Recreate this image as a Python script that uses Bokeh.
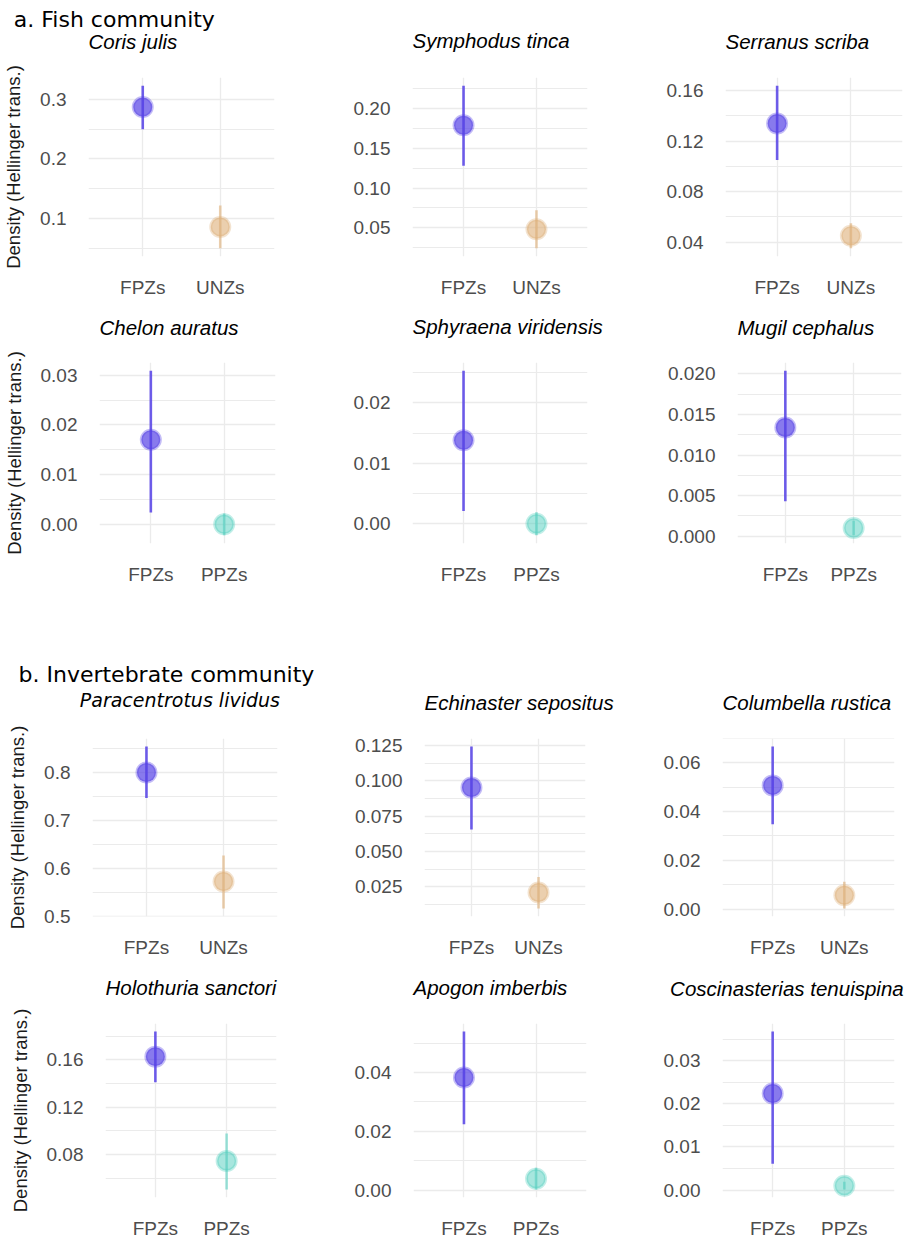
from bokeh.plotting import figure
from bokeh.models import Range1d, FactorRange, FixedTicker, Label, ColumnDataSource
from bokeh.layouts import column, row
from bokeh.embed import file_html
from bokeh.resources import INLINE

# ---------------- data ----------------
section_titles = ["a. Fish community", "b. Invertebrate community"]
y_title = "Density (Hellinger trans.)"

species = ["Coris julis", "Symphodus tinca", "Serranus scriba",
           "Chelon auratus", "Sphyraena viridensis", "Mugil cephalus",
           "Paracentrotus lividus", "Echinaster sepositus", "Columbella rustica",
           "Holothuria sanctori", "Apogon imberbis", "Coscinasterias tenuispina"]
ref_zone = "FPZs"
other_zone = ["UNZs", "UNZs", "UNZs", "PPZs", "PPZs", "PPZs",
              "UNZs", "UNZs", "UNZs", "PPZs", "PPZs", "PPZs"]

fpz_mean = [0.287, 0.179, 0.134, 0.0170, 0.0138, 0.0134, 0.799, 0.0953, 0.0507, 0.1627, 0.0383, 0.0224]
fpz_lo   = [0.250, 0.128, 0.105, 0.0024, 0.0021, 0.0043, 0.746, 0.0656, 0.0348, 0.1410, 0.0224, 0.0061]
fpz_hi   = [0.323, 0.229, 0.164, 0.0309, 0.0253, 0.0204, 0.853, 0.1243, 0.0666, 0.1840, 0.0540, 0.0368]

oth_mean = [0.086, 0.048, 0.045, 0.0000, 0.0000, 0.0010, 0.572, 0.0210, 0.0057, 0.0745, 0.0039, 0.0010]
oth_lo   = [0.050, 0.024, 0.035, -0.0022, -0.0019, 0.0001, 0.516, 0.0097, 0.0003, 0.0504, 0.0002, 0.0001]
oth_hi   = [0.122, 0.072, 0.055, 0.0022, 0.0019, 0.0019, 0.626, 0.0320, 0.0112, 0.0978, 0.0076, 0.0019]

y_ticks = [[0.1, 0.2, 0.3], [0.05, 0.10, 0.15, 0.20], [0.04, 0.08, 0.12, 0.16],
           [0.00, 0.01, 0.02, 0.03], [0.00, 0.01, 0.02], [0.000, 0.005, 0.010, 0.015, 0.020],
           [0.5, 0.6, 0.7, 0.8], [0.025, 0.050, 0.075, 0.100, 0.125], [0.00, 0.02, 0.04, 0.06],
           [0.08, 0.12, 0.16], [0.00, 0.02, 0.04], [0.00, 0.01, 0.02, 0.03]]
y_tick_labels = [["0.1", "0.2", "0.3"], ["0.05", "0.10", "0.15", "0.20"], ["0.04", "0.08", "0.12", "0.16"],
                 ["0.00", "0.01", "0.02", "0.03"], ["0.00", "0.01", "0.02"],
                 ["0.000", "0.005", "0.010", "0.015", "0.020"],
                 ["0.5", "0.6", "0.7", "0.8"], ["0.025", "0.050", "0.075", "0.100", "0.125"],
                 ["0.00", "0.02", "0.04", "0.06"],
                 ["0.08", "0.12", "0.16"], ["0.00", "0.02", "0.04"], ["0.00", "0.01", "0.02", "0.03"]]

# ---------------- styles / geometry ----------------
zone_color = {"FPZs": "#5541E6", "UNZs": "#DDAF78", "PPZs": "#4FCDBE"}
zone_fill_alpha = {"FPZs": 0.70, "UNZs": 0.60, "PPZs": 0.50}
zone_line_alpha = {"FPZs": 0.85, "UNZs": 0.60, "PPZs": 0.55}

TOTAL_W = 908
COL_START = [0, 304, 610]
# per row: strip (title band) height above row, row borders, frame height, per-column (left, frame_w, right)
ROWS = [
    dict(strip=56, top=21, fh=181, bottom=42, cols=[(88, 186, 30), (108, 175, 23), (115, 177, 6)]),
    dict(strip=42, top=20, fh=181, bottom=97, cols=[(99, 176, 29), (108, 175, 23), (127, 164, 7)]),
    dict(strip=76, top=22, fh=178, bottom=52, cols=[(92, 185, 27), (120, 161, 25), (112, 172, 14)]),
    dict(strip=34, top=21, fh=178, bottom=40, cols=[(105, 171, 28), (109, 173, 24), (112, 172, 14)]),
]
# section headers: (row index whose strip holds it, x, baseline from strip top)
HEADERS = [(0, 13.3, 26.7), (2, 18.0, 41.7)]
title_gap = [28.7, 29.3, 29.0, 27.7, 28.4, 28.0, 31.0, 28.3, 28.3, 29.0, 29.0, 27.3]
title_dx = [0, 0, 0, 0, 0, 0, -12.7, 0, 0, 0, 0, -52.4]
BASELINE_FIX = 7.5   # label baseline correction (px)

FONT = "Liberation Sans"
TICK_COLOR = "#4D4D4D"
GRID = "#EBEBEB"


def panel(i, left, fw, right, top, fh, bottom, first_col):
    zones = [ref_zone, other_zone[i]]
    lo = min(fpz_lo[i], oth_lo[i])
    hi = max(fpz_hi[i], oth_hi[i])
    pad = 0.05 * (hi - lo)
    p = figure(x_range=FactorRange(factors=zones, range_padding=0.2, range_padding_units="absolute"),
               y_range=Range1d(lo - pad, hi + pad),
               width=left + fw + right, height=top + fh + bottom,
               min_border_left=left, min_border_right=right,
               min_border_top=top, min_border_bottom=bottom,
               output_backend="svg", toolbar_location=None, tools="")
    p.outline_line_color = None
    p.background_fill_color = "white"
    p.border_fill_color = "white"

    src = ColumnDataSource(dict(
        zone=zones,
        mean=[fpz_mean[i], oth_mean[i]],
        lo=[fpz_lo[i], oth_lo[i]],
        hi=[fpz_hi[i], oth_hi[i]],
        color=[zone_color[z] for z in zones],
        falpha=[zone_fill_alpha[z] for z in zones],
        lalpha=[zone_line_alpha[z] for z in zones],
    ))
    p.segment(x0="zone", y0="lo", x1="zone", y1="hi", source=src,
              line_color="color", line_alpha="lalpha", line_width=2.6)
    p.scatter(x="zone", y="mean", source=src, size=19,
              fill_color="color", fill_alpha="falpha",
              line_color="color", line_alpha=0.35, line_width=3)

    ticks = y_ticks[i]
    step = ticks[1] - ticks[0]
    minor = [ticks[0] - step / 2] + [t + step / 2 for t in ticks]
    p.yaxis.ticker = FixedTicker(ticks=ticks, minor_ticks=minor)
    p.yaxis.major_label_overrides = {t: s for t, s in zip(ticks, y_tick_labels[i])}

    for ax in (p.xaxis[0], p.yaxis[0]):
        ax.axis_line_color = None
        ax.major_tick_line_color = None
        ax.minor_tick_line_color = None
        ax.major_tick_in = 0
        ax.major_tick_out = 0
        ax.minor_tick_in = 0
        ax.minor_tick_out = 0
        ax.major_label_text_font = FONT
        ax.major_label_text_font_size = "19px"
        ax.major_label_text_color = TICK_COLOR
    p.yaxis.major_label_standoff = 22
    p.xaxis.major_label_standoff = 20

    p.xgrid.grid_line_color = GRID
    p.xgrid.grid_line_width = 1.3
    p.ygrid.grid_line_color = GRID
    p.ygrid.grid_line_width = 1.3
    p.ygrid.minor_grid_line_color = GRID
    p.ygrid.minor_grid_line_width = 1.0

    if first_col:
        p.yaxis.axis_label = y_title
        p.yaxis.axis_label_text_font = FONT
        p.yaxis.axis_label_text_font_size = "18.5px"
        p.yaxis.axis_label_text_font_style = "normal"
        p.yaxis.axis_label_text_color = "#1A1A1A"
        p.yaxis.axis_label_standoff = 13
    return p


def strip(h):
    p = figure(width=TOTAL_W, height=h, x_range=Range1d(0, 1), y_range=Range1d(0, 1),
               x_axis_location=None, y_axis_location=None, min_border=0,
               output_backend="svg", toolbar_location=None, tools="")
    p.grid.visible = False
    p.outline_line_color = None
    return p


blocks = []
for r, geo in enumerate(ROWS):
    s = strip(geo["strip"])
    for k, (hr, hx, hbase) in enumerate(HEADERS):
        if hr == r:
            s.add_layout(Label(x=hx, y=geo["strip"] - hbase + BASELINE_FIX,
                               x_units="screen", y_units="screen",
                               text=section_titles[k],
                               text_font="DejaVu Sans", text_font_size="22px",
                               text_color="black", text_baseline="alphabetic", text_align="left"))
    figs = []
    for c, (left, fw, right) in enumerate(geo["cols"]):
        i = r * 3 + c
        figs.append(panel(i, left, fw, right, geo["top"], geo["fh"], geo["bottom"], c == 0))
        if i == 6:
            tfont, tsize = "DejaVu Sans", "19px"
        else:
            tfont, tsize = FONT, "20.5px"
        s.add_layout(Label(x=COL_START[c] + left + title_dx[i],
                           y=title_gap[i] - geo["top"] + BASELINE_FIX,
                           x_units="screen", y_units="screen",
                           text=species[i], text_font=tfont, text_font_style="italic",
                           text_font_size=tsize, text_color="black",
                           text_baseline="alphabetic", text_align="left"))
    blocks.append(s)
    blocks.append(row(*figs))

p = column(*blocks)

open("out.html", "w").write(file_html(p, INLINE))
